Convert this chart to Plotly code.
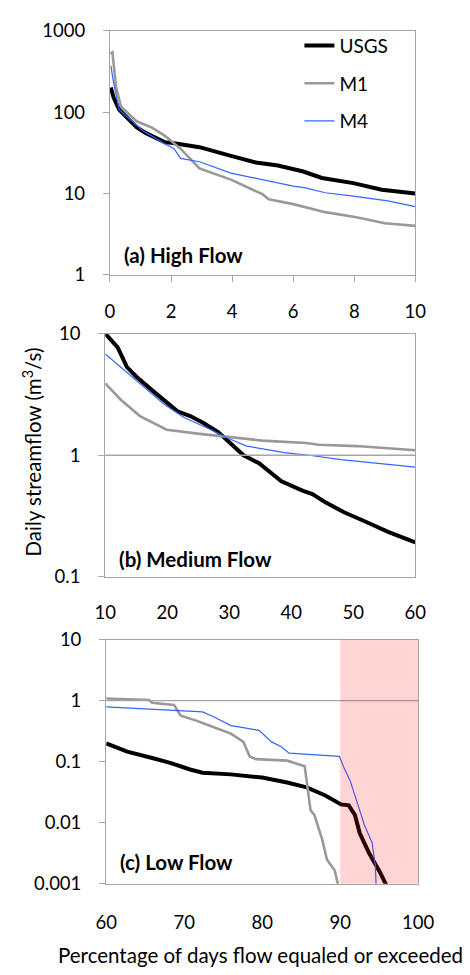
import plotly.graph_objects as go

W, H = 470, 975
FONT = "Lato"
AXC = "#a6a6a6"
C_USGS, C_M1, C_M4 = "#000000", "#999999", "#3366ff"

# ---------------- data ----------------
# (a) High flow, 0-10 %
a_usgs_x = [0.03, 0.12, 0.3, 0.87, 1.18, 1.8, 2.0, 2.93, 3.96, 4.78, 5.5, 6.33, 6.94, 7.97, 8.9, 10]
a_usgs_y = [200, 150, 107, 65, 55, 42.5, 42, 37, 29, 24, 22, 18.6, 15.5, 13.4, 11.1, 10]
a_m1_x = [0.02, 0.08, 0.2, 0.36, 0.87, 1.39, 1.8, 2.31, 2.93, 3.96, 4.99, 5.2, 6.0, 6.4, 7.05, 8.07, 9.0, 10]
a_m1_y = [520, 540, 203, 117, 77, 64, 51, 35.5, 20.3, 14.8, 9.8, 8.5, 7.4, 6.8, 5.9, 5.1, 4.3, 4.0]
a_m4_x = [0.03, 0.1, 0.3, 0.67, 1.08, 1.8, 2.1, 2.31, 2.93, 3.96, 4.99, 6.0, 6.4, 7.05, 7.97, 9.1, 10]
a_m4_y = [370, 250, 107, 81, 59, 40.6, 35.5, 27, 24.5, 17.8, 14.8, 12.3, 11.7, 10.2, 9.3, 8.1, 6.9]

# (b) Medium flow, 10-60 %
b_usgs_x = [10, 12.0, 13.5, 15.07, 18.1, 20.1, 21.65, 23.7, 25.7, 28.2, 30.3, 32.3, 34.8, 38.4, 41.9, 43.4, 45.5, 48.5, 52.1, 55.6, 60]
b_usgs_y = [10, 7.7, 5.3, 4.4, 3.24, 2.7, 2.3, 2.1, 1.86, 1.55, 1.24, 1.0, 0.86, 0.61, 0.51, 0.48, 0.41, 0.34, 0.283, 0.235, 0.192]
b_m1_x = [10, 12.5, 15.6, 17.6, 19.9, 25.2, 29.8, 35.3, 42.4, 44.4, 50.5, 60]
b_m1_y = [3.9, 2.86, 2.1, 1.86, 1.62, 1.5, 1.41, 1.32, 1.26, 1.22, 1.19, 1.1]
b_m4_x = [10, 12.5, 16.1, 19.6, 22.7, 26.2, 29.8, 32.8, 38.9, 42.9, 48.0, 56.1, 60]
b_m4_y = [6.8, 5.3, 3.66, 2.6, 2.04, 1.7, 1.38, 1.19, 1.05, 1.0, 0.92, 0.84, 0.80]

# (c) Low flow, 60-100 %
c_usgs_x = [60, 62.7, 65.9, 68.3, 70.75, 72.35, 75.98, 80.0, 83.2, 85.7, 88.1, 90.1, 91.1, 91.9, 92.5, 93.7, 95.1, 95.8, 96.2]
c_usgs_y = [0.2, 0.146, 0.115, 0.095, 0.0745, 0.066, 0.062, 0.055, 0.0457, 0.038, 0.028, 0.02, 0.0193, 0.0133, 0.0068, 0.0032, 0.00155, 0.001, 0.0008]
c_m1_x = [60, 65.5, 65.9, 68.7, 69.55, 71.55, 73.2, 75.98, 77.6, 78.4, 79.2, 83.2, 85.45, 85.85, 86.2, 86.7, 87.7, 88.3, 89.3, 89.7, 89.9]
c_m1_y = [1.08, 1.02, 0.92, 0.85, 0.565, 0.47, 0.39, 0.288, 0.211, 0.122, 0.11, 0.104, 0.084, 0.038, 0.016, 0.0133, 0.0053, 0.0025, 0.00166, 0.001, 0.0008]
c_m4_x = [60, 68.7, 72.35, 73.97, 75.98, 77.2, 79.6, 81.2, 82.45, 83.45, 89.9, 90.5, 91.3, 92.1, 93.1, 94.1, 94.5, 94.6, 94.65]
c_m4_y = [0.787, 0.705, 0.655, 0.53, 0.39, 0.367, 0.325, 0.211, 0.176, 0.138, 0.122, 0.079, 0.048, 0.023, 0.0092, 0.0047, 0.002, 0.001, 0.0008]

series_names = ["USGS", "M1", "M4"]
panel_labels = ["(a) High Flow", "(b) Medium Flow", "(c) Low Flow"]
y_title = "Daily streamflow (m<sup>3</sup>/s)"
x_title = "Percentage of days flow equaled or exceeded"
shade_range = [90, 100]

panels = [
    dict(x=[a_usgs_x, a_m1_x, a_m4_x], y=[a_usgs_y, a_m1_y, a_m4_y]),
    dict(x=[b_usgs_x, b_m1_x, b_m4_x], y=[b_usgs_y, b_m1_y, b_m4_y]),
    dict(x=[c_usgs_x, c_m1_x, c_m4_x], y=[c_usgs_y, c_m1_y, c_m4_y]),
]
styles = [dict(color=C_USGS, width=4), dict(color=C_M1, width=2.6), dict(color=C_M4, width=1.2)]

# ---------------- geometry (pixels) ----------------
geo = [
    dict(l=105, r=429, t=19, b=269, xr=[0, 10], xd=2, yr=[0, 3], yt=[1, 10, 100, 1000], yl=["1", "10", "100", "1000"]),
    dict(l=100, r=429, t=329, b=578, xr=[10, 60], xd=10, yr=[-1, 1], yt=[0.1, 1, 10], yl=["0.1", "1", "10"]),
    dict(l=101, r=432, t=642, b=892, xr=[60, 100], xd=10, yr=[-3, 1], yt=[0.001, 0.01, 0.1, 1, 10],
         yl=["0.001", "0.01", "0.1", "1", "10"]),
]
x_standoff = [14, 19, 22]

fig = go.Figure()
tickfont = dict(family=FONT, size=18.5, color="#000000")
textfont = dict(family=FONT, size=20.5, color="#000000")

for i, (p, g) in enumerate(zip(panels, geo)):
    n = "" if i == 0 else str(i + 1)
    for k in range(3):
        fig.add_trace(go.Scatter(
            x=p["x"][k], y=p["y"][k], mode="lines", name=series_names[k],
            line=dict(**styles[k]), showlegend=(i == 0), legendgroup=series_names[k],
            xaxis="x" + n, yaxis="y" + n))
    xa = dict(domain=[g["l"] / W, g["r"] / W], range=g["xr"], dtick=g["xd"], tick0=g["xr"][0],
              showgrid=False, zeroline=False, showline=True, mirror=True, linecolor=AXC, linewidth=1.3,
              ticks="outside" if i == 0 else "", ticklen=6, tickcolor=AXC, tickwidth=1.3,
              tickfont=tickfont, ticklabelstandoff=x_standoff[i], anchor="y" + n)
    ya = dict(domain=[(H - g["b"]) / H, (H - g["t"]) / H], type="log", range=g["yr"],
              tickvals=g["yt"], ticktext=g["yl"],
              showgrid=False, zeroline=False, showline=True, mirror=True, linecolor=AXC, linewidth=1.3,
              ticks="outside", ticklen=6, tickcolor=AXC, tickwidth=1.3,
              tickfont=tickfont, ticklabelstandoff=14, anchor="x" + n)
    fig.layout["xaxis" + n] = xa
    fig.layout["yaxis" + n] = ya

# horizontal axis crossing at 1 in panels (b) and (c), with tick marks below
for n, ticks in [("2", [20, 30, 40, 50]), ("3", [70, 80, 90])]:
    fig.add_shape(type="line", xref="x" + n + " domain", yref="y" + n, x0=0, x1=1, y0=1, y1=1,
                  line=dict(color=AXC, width=1.3), layer="above")
    for t in ticks:
        fig.add_shape(type="line", xref="x" + n, yref="y" + n, ysizemode="pixel", yanchor=1,
                      x0=t, x1=t, y0=0, y1=-6, line=dict(color=AXC, width=1.3), layer="above")

# shaded region in (c)
fig.add_shape(type="rect", xref="x3", yref="y3 domain", x0=shade_range[0], x1=shade_range[1], y0=0, y1=1,
              fillcolor="rgba(255,0,0,0.17)", line=dict(width=0), layer="above")

# panel labels
lab_pos = [(118, 249), (112, 560), (114, 870)]
for txt, (px, py) in zip(panel_labels, lab_pos):
    fig.add_annotation(text="<b>" + txt + "</b>", xref="paper", yref="paper", x=px / W, y=(H - py) / H,
                       xanchor="left", yanchor="middle", showarrow=False, font=textfont)

fig.add_annotation(text=y_title, xref="paper", yref="paper", x=23 / W, y=(H - 450) / H, textangle=-90,
                   xanchor="center", yanchor="middle", showarrow=False, font=textfont)
fig.add_annotation(text=x_title, xref="paper", yref="paper", x=265 / W, y=(H - 965) / H,
                   xanchor="center", yanchor="middle", showarrow=False, font=textfont)

fig.update_layout(
    width=W, height=H, margin=dict(l=0, r=0, t=0, b=0),
    paper_bgcolor="white", plot_bgcolor="white",
    font=dict(family=FONT, size=18.5, color="#000000"),
    legend=dict(x=306 / W, y=(H - 15) / H, xanchor="left", yanchor="top", bgcolor="rgba(0,0,0,0)",
                tracegroupgap=10, font=dict(family=FONT, size=19)),
)

fig.write_html("out.html")
